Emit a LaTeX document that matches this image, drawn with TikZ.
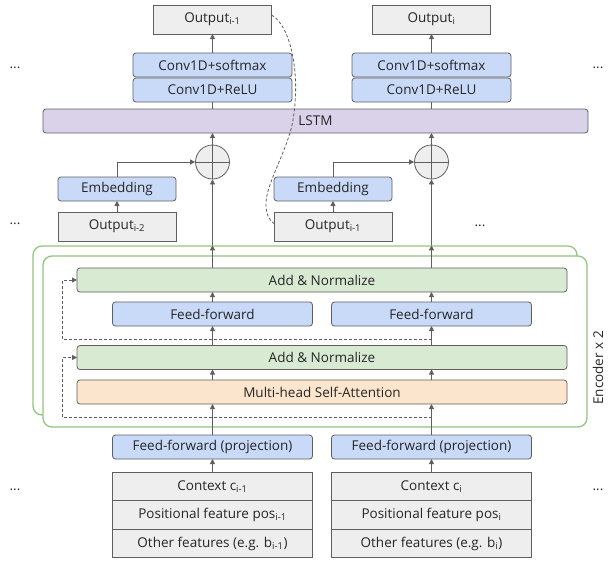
\documentclass[tikz,border=0pt]{standalone}
\usepackage{fontspec}
\setmainfont{Open Sans}
\usepackage{tikz}
\usetikzlibrary{arrows.meta,positioning,calc}
\definecolor{linegray}{HTML}{5F5F5F}
\definecolor{boxgray}{HTML}{EEEEEE}
\definecolor{convblue}{HTML}{C9DAF8}
\definecolor{lstmpurple}{HTML}{D9D2E9}
\definecolor{addgreen}{HTML}{D9EAD3}
\definecolor{attnorange}{HTML}{FCE5CD}
\definecolor{encgreen}{HTML}{93C47D}

\begin{document}
\begin{tikzpicture}[x=1pt, y=-1pt,
    every node/.style={font=\fontsize{13.5}{16}\selectfont, text=black!85},
    plain/.style={draw=linegray, line width=0.8pt, fill=boxgray, minimum height=29, inner sep=0pt, outer sep=0pt},
    layer/.style={draw=linegray, line width=0.8pt, rounded corners=3pt, minimum height=24, inner sep=0pt, outer sep=0pt},
    encbox/.style={draw=encgreen, line width=1.3pt, rounded corners=9pt, fill=white, inner sep=0pt},
    conn/.style={draw=linegray, line width=0.8pt, -{Triangle[length=5pt,width=5pt]}},
    skip/.style={draw=linegray, line width=0.8pt, dash pattern=on 3pt off 2pt}]
  \useasboundingbox (0,0) rectangle (608,560);
  % Outputs and conv layers
  \node[plain, minimum width=118] (outA) at (212.5,19.5) {Output\textsubscript{i-1}};
  \node[plain, minimum width=118] (outB) at (431.5,19.5) {Output\textsubscript{i}};
  \node[layer, fill=convblue, minimum width=159] (smaxA) at (212.5,65) {Conv1D+softmax};
  \node[layer, fill=convblue, minimum width=159, below=1pt of smaxA] (reluA) {Conv1D+ReLU};
  \node[layer, fill=convblue, minimum width=159] (smaxB) at (431.5,65) {Conv1D+softmax};
  \node[layer, fill=convblue, minimum width=159, below=1pt of smaxB] (reluB) {Conv1D+ReLU};
  \node[layer, fill=lstmpurple, minimum width=545] (lstm) at (315.5,121) {LSTM};
  % Sum with previous output
  \node[circle, draw=linegray, line width=0.8pt, fill=boxgray, minimum size=34, inner sep=0pt] (plusA) at (212.5,162) {};
  \node[circle, draw=linegray, line width=0.8pt, fill=boxgray, minimum size=34, inner sep=0pt] (plusB) at (431.5,162) {};
  \draw[linegray, line width=0.8pt] (plusA.north) -- (plusA.south) (plusA.west) -- (plusA.east);
  \draw[linegray, line width=0.8pt] (plusB.north) -- (plusB.south) (plusB.west) -- (plusB.east);
  \node[layer, fill=convblue, minimum width=118] (embA) at (117,189) {Embedding};
  \node[layer, fill=convblue, minimum width=118] (embB) at (333,189) {Embedding};
  \node[plain, minimum width=118] (prevA) at (117,226.5) {Output\textsubscript{i-2}};
  \node[plain, minimum width=118] (prevB) at (333,226.5) {Output\textsubscript{i-1}};
  % Encoder
  \node[encbox, minimum width=544, minimum height=169] (encback) at (305,330.5) {};
  \node[encbox, minimum width=544, minimum height=171] (encfront) at (315,341.5) {};
  \node[rotate=90] (enclabel) at (598,368) {Encoder x 2};
  \node[layer, fill=addgreen, minimum width=490] (addA) at (322,280) {Add \& Normalize};
  \node[layer, fill=convblue, minimum width=200] (ffA) at (212.5,314) {Feed-forward};
  \node[layer, fill=convblue, minimum width=200] (ffB) at (431.5,314) {Feed-forward};
  \node[layer, fill=addgreen, minimum width=490] (addB) at (322,357.5) {Add \& Normalize};
  \node[layer, fill=attnorange, minimum width=490] (mha) at (322,392) {Multi-head Self-Attention};
  % Inputs
  \node[layer, fill=convblue, minimum width=200] (projA) at (212.5,447) {Feed-forward (projection)};
  \node[layer, fill=convblue, minimum width=200] (projB) at (431.5,447) {Feed-forward (projection)};
  \node[plain, minimum width=200, minimum height=28.5] (ctxA) at (212.5,486.5) {Context c\textsubscript{i-1}};
  \node[plain, minimum width=200, minimum height=28.5, below=0pt of ctxA] (posA) {Positional feature pos\textsubscript{i-1}};
  \node[plain, minimum width=200, minimum height=28.5, below=0pt of posA] (othA) {Other features (e.g. b\textsubscript{i-1})};
  \node[plain, minimum width=200, minimum height=28.5] (ctxB) at (431.5,486.5) {Context c\textsubscript{i}};
  \node[plain, minimum width=200, minimum height=28.5, below=0pt of ctxB] (posB) {Positional feature pos\textsubscript{i}};
  \node[plain, minimum width=200, minimum height=28.5, below=0pt of posB] (othB) {Other features (e.g. b\textsubscript{i})};
  % Dots
  \node (dotsA) at (15,68) {...};
  \node (dotsB) at (598,68) {...};
  \node (dotsC) at (15,224) {...};
  \node (dotsD) at (480,226) {...};
  \node (dotsE) at (15,490) {...};
  \node (dotsF) at (598,490) {...};
  % Column A
  \draw[conn] (ctxA) -- (projA);
  \draw[conn] (projA) -- (projA |- mha.south);
  \draw[conn] (projA |- mha.north) -- (projA |- addB.south);
  \draw[conn] (projA |- addB.north) -- (ffA);
  \draw[conn] (ffA) -- (ffA |- addA.south);
  \draw[conn] (ffA |- addA.north) -- (ffA |- encback.north);
  \draw[conn] (ffA |- encback.north) -- (plusA);
  \draw[conn] (embA.north) |- (plusA);
  \draw[conn] (prevA) -- (embA);
  \draw[conn] (plusA) -- (plusA |- lstm.south);
  \draw[linegray, line width=0.8pt] (plusA |- lstm.north) -- (reluA);
  \draw[conn] (smaxA) -- (outA);
  % Column B
  \draw[conn] (ctxB) -- (projB);
  \draw[conn] (projB) -- (projB |- mha.south);
  \draw[conn] (projB |- mha.north) -- (projB |- addB.south);
  \draw[conn] (projB |- addB.north) -- (ffB);
  \draw[conn] (ffB) -- (ffB |- addA.south);
  \draw[conn] (ffB |- addA.north) -- (ffB |- encback.north);
  \draw[conn] (ffB |- encback.north) -- (plusB);
  \draw[conn] (embB.north) |- (plusB);
  \draw[conn] (prevB) -- (embB);
  \draw[conn] (plusB) -- (plusB |- lstm.south);
  \draw[linegray, line width=0.8pt] (plusB |- lstm.north) -- (reluB);
  \draw[conn] (smaxB) -- (outB);
  % Residual connections
  \coordinate (skipA) at (431.5,339);
  \coordinate (skipB) at (431.5,417);
  \draw[skip, -{Triangle[length=5pt,width=5pt]}] (skipA) -| ([xshift=-15pt]addA.west) -- (addA.west);
  \draw[skip, -{Triangle[length=5pt,width=5pt]}] (skipB) -| ([xshift=-15pt]addB.west) -- (addB.west);
  % Feedback of the previous output
  \draw[skip] ($(outA.east)+(0,-4.5)$) .. controls (290,25) and (301,72) .. (293,120)
    .. controls (288,150) and (265,185) .. (266,205) .. controls (266,215) and (270,221) .. ($(prevB.west)+(0,-3)$);
\end{tikzpicture}
\end{document}
